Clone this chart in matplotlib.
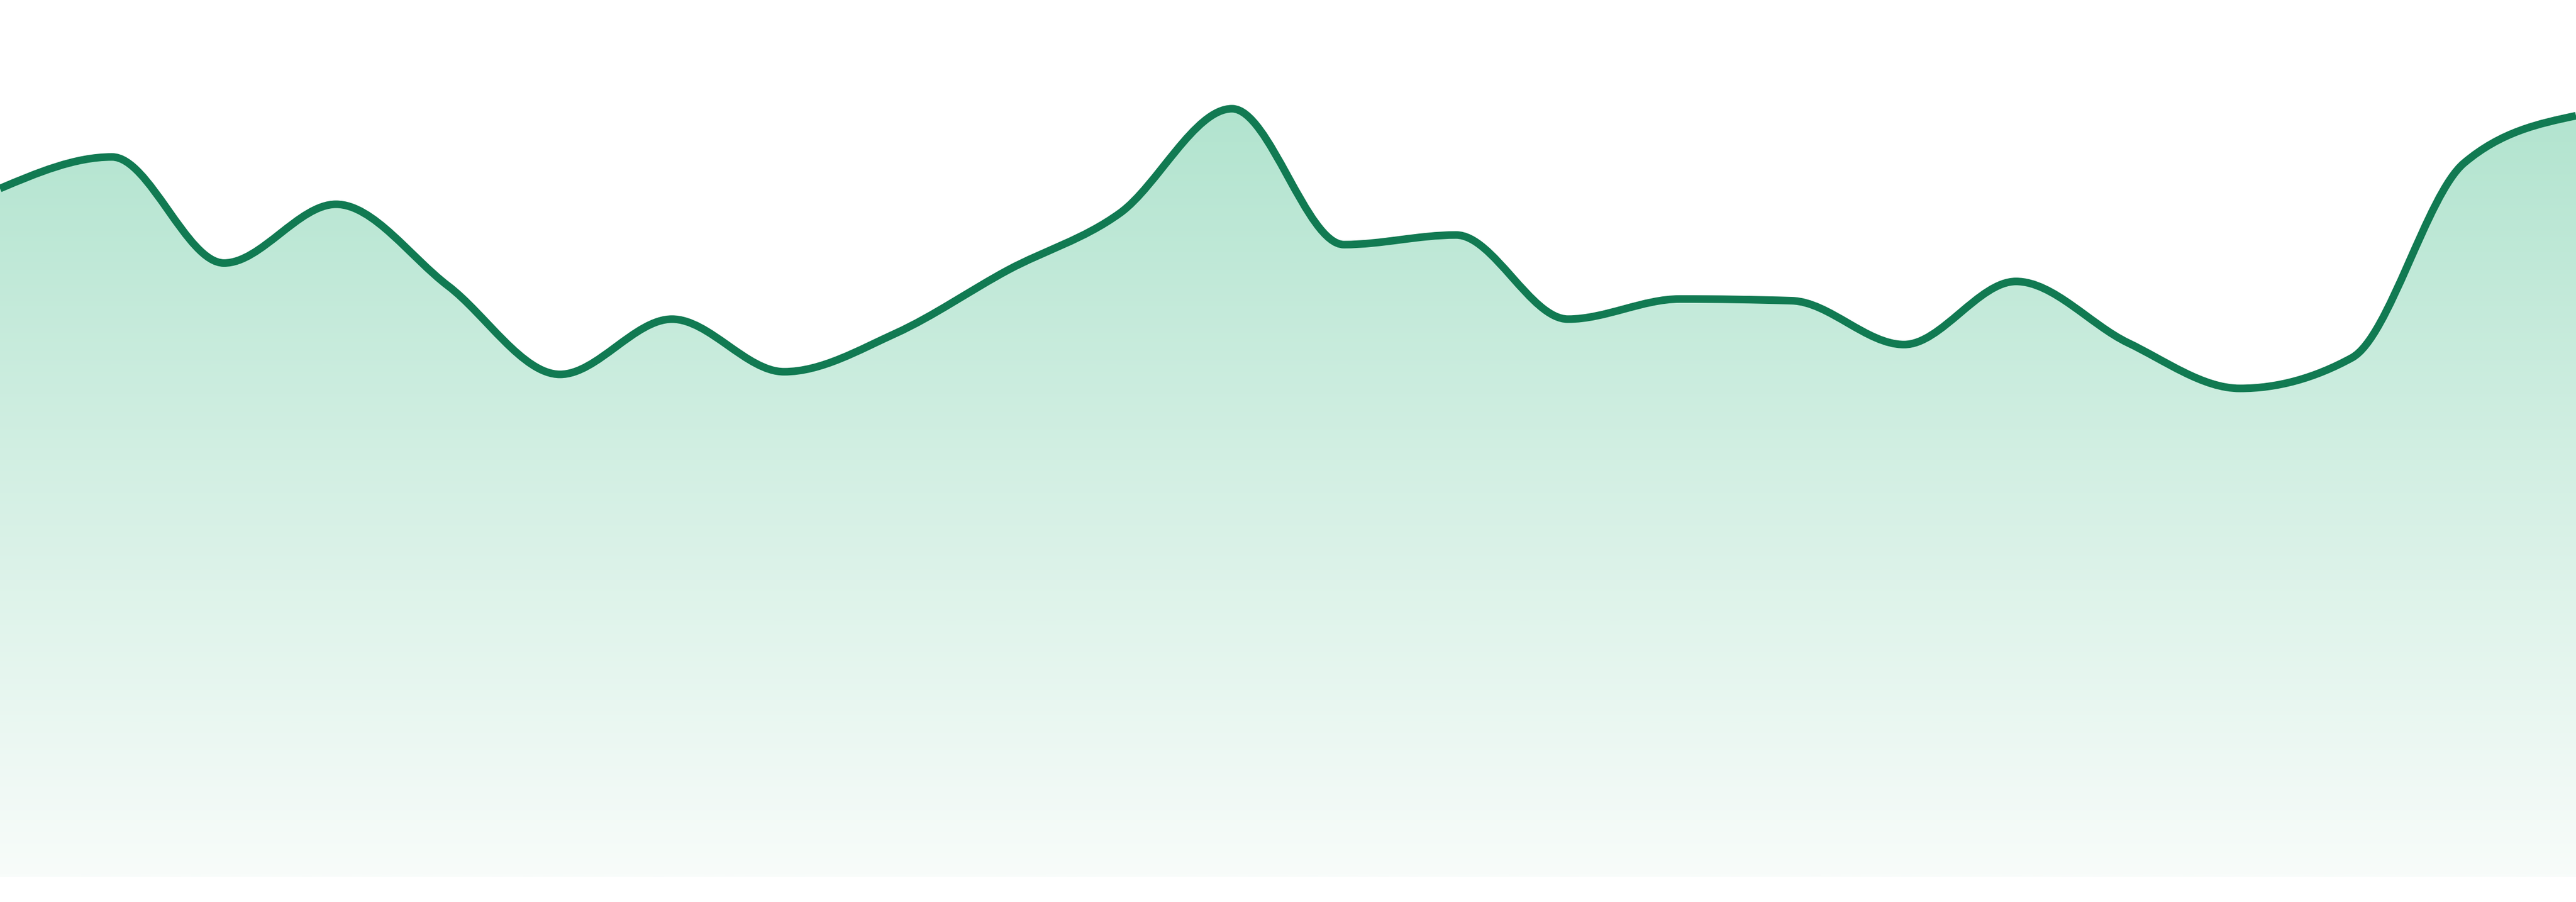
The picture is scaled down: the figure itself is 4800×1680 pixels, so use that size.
"""Smooth area chart with a vertical gradient fill."""

import matplotlib

matplotlib.use("Agg")
import numpy as np
from matplotlib import pyplot as plt
from matplotlib.colors import LinearSegmentedColormap
from matplotlib.patches import PathPatch
from matplotlib.path import Path

# values (0 = bottom of the fill, 100 = top of the image)
values = [
    78.5, 82.1, 70.0, 76.7, 67.4, 57.3, 63.6, 57.6,
    62.0, 69.2, 75.7, 87.6, 72.1, 73.2, 63.6, 65.9,
    65.7, 60.7, 67.9, 60.9, 55.7, 59.2, 81.4, 86.8,
]
positions = list(range(len(values)))

_LINE_COLOR = "#117a52"
_FILL_TOP = "#b2e4cf"
_FILL_BOTTOM = "#f8fcfa"


def _monotone_slopes(x: np.ndarray, y: np.ndarray) -> np.ndarray:
    # same tangents as d3.curveMonotoneX
    h = np.diff(x)
    s = np.diff(y) / h
    sign = lambda v: -1.0 if v < 0 else 1.0  # noqa: E731
    t = np.zeros(len(x))
    for i in range(1, len(x) - 1):
        p = (s[i - 1] * h[i] + s[i] * h[i - 1]) / (h[i - 1] + h[i])
        t[i] = (sign(s[i - 1]) + sign(s[i])) * min(
            abs(s[i - 1]), abs(s[i]), 0.5 * abs(p)
        )
    t[0] = (3 * s[0] - t[1]) / 2
    t[-1] = (3 * s[-1] - t[-2]) / 2
    return t


def _curve_vertices(x: np.ndarray, y: np.ndarray):
    t = _monotone_slopes(x, y)
    verts = [(x[0], y[0])]
    codes = [Path.MOVETO]
    for i in range(len(x) - 1):
        dx = (x[i + 1] - x[i]) / 3
        verts += [
            (x[i] + dx, y[i] + dx * t[i]),
            (x[i + 1] - dx, y[i + 1] - dx * t[i + 1]),
            (x[i + 1], y[i + 1]),
        ]
        codes += [Path.CURVE4] * 3
    return verts, codes


x = np.asarray(positions, dtype=float)
y = np.asarray(values, dtype=float)

fig = plt.figure(figsize=(16, 5.6), dpi=300, facecolor="white")
ax = fig.add_axes([0, 47 / 1680, 1, 1633 / 1680])
ax.set_xlim(x[0], x[-1])
ax.set_ylim(0, 100)
ax.axis("off")

verts, codes = _curve_vertices(x, y)

# closed area under the curve, used to clip the gradient
area_verts = verts + [(x[-1], 0), (x[0], 0), (x[0], y[0])]
area_codes = codes + [Path.LINETO, Path.LINETO, Path.CLOSEPOLY]
area = PathPatch(Path(area_verts, area_codes), facecolor="none", edgecolor="none")
ax.add_patch(area)

cmap = LinearSegmentedColormap.from_list("fade", [_FILL_BOTTOM, _FILL_TOP])
gradient = np.linspace(0, 1, 512).reshape(-1, 1)
img = ax.imshow(
    gradient,
    cmap=cmap,
    origin="lower",
    aspect="auto",
    extent=(x[0], x[-1], 0, y.max()),
    interpolation="bilinear",
    zorder=1,
)
img.set_clip_path(area)

line = PathPatch(
    Path(verts, codes),
    facecolor="none",
    edgecolor=_LINE_COLOR,
    linewidth=3.4,
    capstyle="butt",
    joinstyle="round",
    zorder=2,
)
ax.add_patch(line)

fig.savefig("out.png", dpi=300, facecolor="white")
plt.close(fig)
